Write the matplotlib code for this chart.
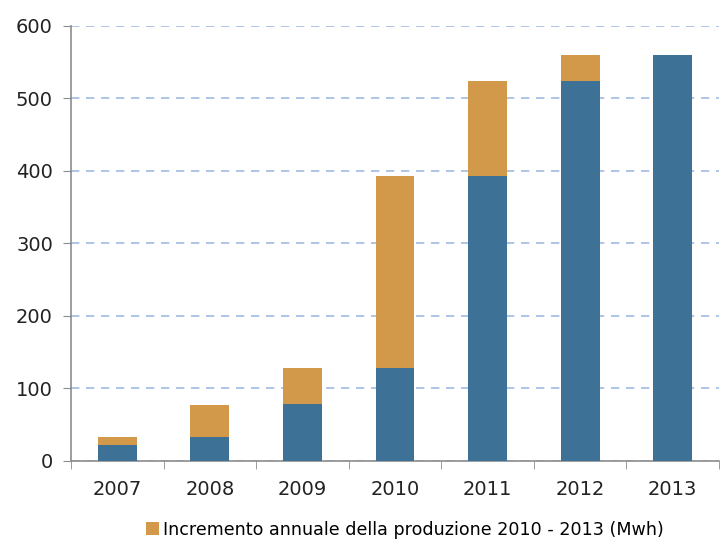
import matplotlib.pyplot as plt
from matplotlib.patches import Patch

years = ['2007', '2008', '2009', '2010', '2011', '2012', '2013']
base = [22, 33, 78, 128, 393, 524, 560]
increment = [11, 44, 50, 265, 131, 36, 0]
y_ticks = [0, 100, 200, 300, 400, 500, 600]
legend_label = 'Incremento annuale della produzione 2010 - 2013 (Mwh)'

blue = '#3e7196'
orange = '#d2994b'
axis_grey = '#8c8c8c'

fig = plt.figure(figsize=(7.2, 5.41), dpi=100)
ax = fig.add_axes([0.0986, 0.148, 0.9, 0.804])

x = range(len(years))
ax.bar(x, base, width=0.42, color=blue, zorder=3)
ax.bar(x, increment, bottom=base, width=0.42, color=orange, zorder=3)

ax.set_xlim(-0.5, len(years) - 0.5)
ax.set_ylim(0, 600)
ax.set_yticks(y_ticks)
ax.set_yticklabels([str(v) for v in y_ticks])
ax.yaxis.grid(True, color='#a2bbe3', linestyle=(0, (5, 4)), linewidth=1.2, zorder=0)

# category labels centred, tick marks between categories
ax.set_xticks(list(x))
ax.set_xticklabels(years)
ax.tick_params(axis='x', length=0, pad=14)
ax.set_xticks([i - 0.5 for i in range(len(years) + 1)], minor=True)
ax.tick_params(axis='x', which='minor', length=6, color=axis_grey, direction='out')
ax.tick_params(axis='y', length=6, color=axis_grey, direction='out', pad=7)
ax.tick_params(labelsize=14, labelcolor='#222222')

for side in ['top', 'right']:
    ax.spines[side].set_visible(False)
for side in ['left', 'bottom']:
    ax.spines[side].set_color(axis_grey)
    ax.spines[side].set_linewidth(1.2)

handle = Patch(facecolor=orange, edgecolor='none')
fig.legend([handle], [legend_label], loc='lower center', bbox_to_anchor=(0.562, -0.025),
           frameon=False, handlelength=0.75, handleheight=0.75, handletextpad=0.25,
           prop={'size': 12.6})

fig.savefig('out.png', dpi=100)
